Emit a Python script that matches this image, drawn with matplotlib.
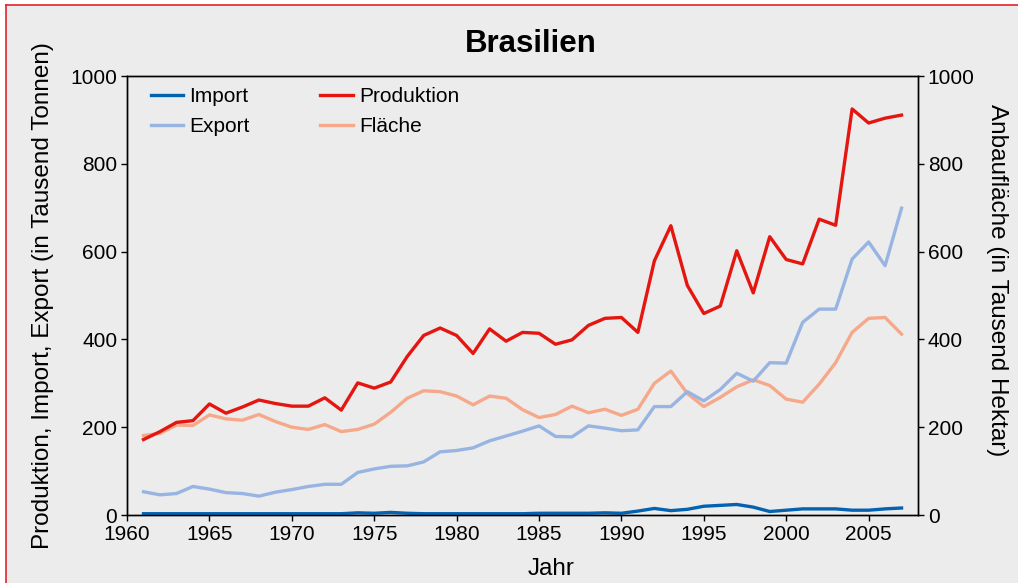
import numpy as np
import matplotlib.pyplot as plt
from matplotlib.patches import Rectangle
from matplotlib.lines import Line2D

plt.rcParams['font.family'] = ['Liberation Sans', 'DejaVu Sans']

jahre = list(range(1961, 2008))

# Tausend Tonnen
produktion = [172, 190, 211, 215, 253, 232, 246, 262, 254, 248,
              248, 267, 239, 301, 289, 303, 361, 409, 426, 409,
              368, 424, 396, 416, 414, 389, 399, 432, 448, 450,
              416, 579, 659, 523, 459, 476, 602, 506, 634, 582,
              572, 674, 660, 925, 893, 904, 911]
export = [53, 46, 49, 65, 59, 51, 49, 43, 52, 58,
          65, 70, 70, 97, 105, 111, 112, 121, 144, 147,
          153, 169, 180, 191, 203, 179, 178, 203, 198, 192,
          194, 247, 247, 281, 260, 286, 323, 305, 347, 346,
          439, 469, 469, 583, 622, 568, 699]
importe = [3, 3, 3, 3, 3, 3, 3, 3, 3, 3,
           3, 3, 3, 5, 4, 6, 4, 3, 3, 3,
           3, 3, 3, 3, 4, 4, 4, 4, 5, 4,
           9, 15, 10, 13, 20, 22, 24, 18, 8, 11,
           14, 14, 14, 11, 11, 14, 16]
# Tausend Hektar
flaeche = [181, 186, 205, 204, 228, 219, 216, 229, 213, 200,
           195, 206, 190, 195, 207, 234, 266, 283, 281, 271,
           251, 271, 266, 240, 222, 229, 248, 233, 241, 227,
           241, 300, 328, 277, 247, 268, 292, 308, 295, 264,
           257, 298, 347, 416, 448, 450, 412]

bg = '#ececec'
rot = '#e4232b'
fig = plt.figure(figsize=(10.18, 5.83), dpi=100, facecolor='white')

# grauer Hintergrund mit rotem Rand links und oben
x0, y1 = 5.5 / 1018, 1 - 5 / 583
fig.patches.append(Rectangle((x0, 0), 1 - x0, y1, transform=fig.transFigure,
                             facecolor=bg, edgecolor='none', zorder=-10))
fig.add_artist(Line2D([x0, x0], [0, y1], transform=fig.transFigure, color=rot, lw=1.2))
fig.add_artist(Line2D([x0, 1], [y1, y1], transform=fig.transFigure, color=rot, lw=1.2))

ax = fig.add_axes([0.1248, 0.1166, 0.7770, 0.7530], facecolor=bg)
ax2 = ax.twinx()

lw = 2.4
l1, = ax.plot(jahre, importe, color='#0562b0', lw=lw, label='Import')
l2, = ax.plot(jahre, export, color='#98b4e2', lw=lw, label='Export')
l3, = ax.plot(jahre, produktion, color='#e4160f', lw=lw, label='Produktion', zorder=4)
l4, = ax2.plot(jahre, flaeche, color='#f6a88a', lw=lw, label='Fläche')
ax.set_zorder(ax2.get_zorder() + 1)
ax.patch.set_visible(False)
ax2.patch.set_facecolor(bg)
ax2.patch.set_visible(True)

ax.set_xlim(1960, 2008)
ax.set_ylim(0, 1000)
ax2.set_ylim(0, 1000)
ax.set_xticks(range(1960, 2006, 5))
ax.set_yticks(range(0, 1001, 200))
ax2.set_yticks(range(0, 1001, 200))

for a in (ax, ax2):
    a.tick_params(direction='out', length=4, width=1, labelsize=15, colors='black', pad=3)
    for s in a.spines.values():
        s.set_linewidth(1)

ax.set_xlabel('Jahr', fontsize=17.5, labelpad=10, x=0.536)
ax.set_ylabel('Produktion, Import, Export (in Tausend Tonnen)', fontsize=17.5, labelpad=12)
ax2.set_ylabel('Anbaufläche (in Tausend Hektar)', fontsize=17.5, rotation=270,
               labelpad=24, y=0.535)
ax.set_title('Brasilien', fontsize=22.5, fontweight='bold', pad=17, x=0.511)

ax.legend([l1, l2, l3, l4], ['Import', 'Export', 'Produktion', 'Fläche'],
          ncol=2, frameon=False, loc='upper left', fontsize=15,
          bbox_to_anchor=(0.006, 1.018), handlelength=1.55, columnspacing=3.4,
          handletextpad=0.3, labelspacing=0.55)

fig.savefig('out.png', dpi=100, facecolor='white')
